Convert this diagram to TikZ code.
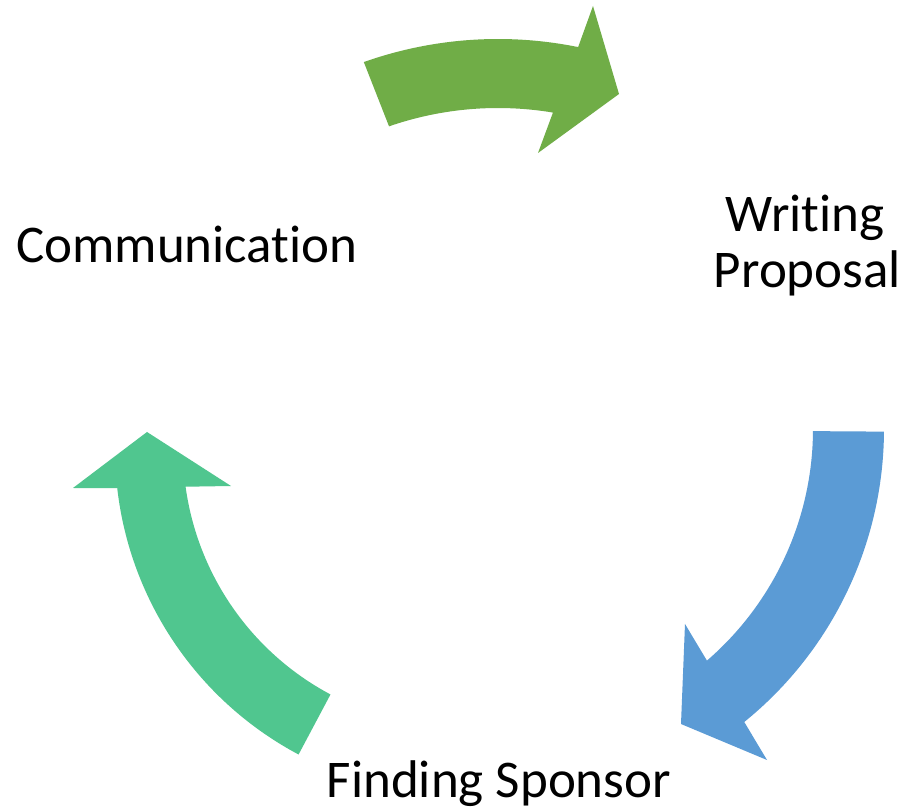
\documentclass[tikz,border=0pt]{standalone}
\usepackage{fontspec}
\setmainfont{Carlito}[Ligatures={NoCommon}]
\usetikzlibrary{calc}
\definecolor{arrgreen}{HTML}{70AD47}
\definecolor{arrblue}{HTML}{5B9BD5}
\definecolor{arrteal}{HTML}{50C68F}
\tikzset{
  lbl/.style={inner sep=0pt, font=\fontsize{53}{58}\selectfont, text=black},
  cyclearrow/.style={draw=none}
}
\begin{document}
\begin{tikzpicture}[x=1pt,y=1pt]
\useasboundingbox (0,0) rectangle (905,809);
\fill[white] (0,0) rectangle (905,809);
% centres of the three arcs
\coordinate (gc) at (498,368);
\coordinate (bc) at (507,380);
\coordinate (tc) at (461,360);
% labels
\node[lbl, anchor=base west] (comm) at (16,546) {Communication};
\node[lbl, anchor=base] (writ) at (805,577) {Writing};
\node[lbl, anchor=base] (prop) at (807.5,521) {Proposal};
\node[lbl, anchor=base] (find) at (499,12) {Finding Sponsor};
% green arrow (Communication -> Writing Proposal)
\fill[arrgreen, cyclearrow] ($(gc)+(109.5:402)$) arc[start angle=109.5, end angle=78.5, radius=402pt]
  -- (593,803) -- (619,715) -- (538,656)
  -- ($(gc)+(80.5:333)$) arc[start angle=80.5, end angle=109.1, radius=333pt] -- cycle;
% blue arrow (Writing Proposal -> Finding Sponsor)
\fill[arrblue, cyclearrow] ($(bc)+(-0.4:306)$) -- ($(bc)+(-0.4:377)$)
  arc[start angle=-0.4, end angle=-51, radius=377pt]
  -- (767,49) -- (681,85) -- (685,185)
  -- ($(bc)+(-49.2:306)$) arc[start angle=-49.2, end angle=-0.4, radius=306pt] -- cycle;
% teal arrow (Finding Sponsor -> Communication)
\fill[arrteal, cyclearrow] ($(tc)+(242:346)$) arc[start angle=242, end angle=186.5, radius=346pt]
  -- (73,321) -- (147,377) -- (231,323)
  -- ($(tc)+(187.8:278)$) arc[start angle=187.8, end angle=242, radius=278pt] -- cycle;
\end{tikzpicture}
\end{document}
